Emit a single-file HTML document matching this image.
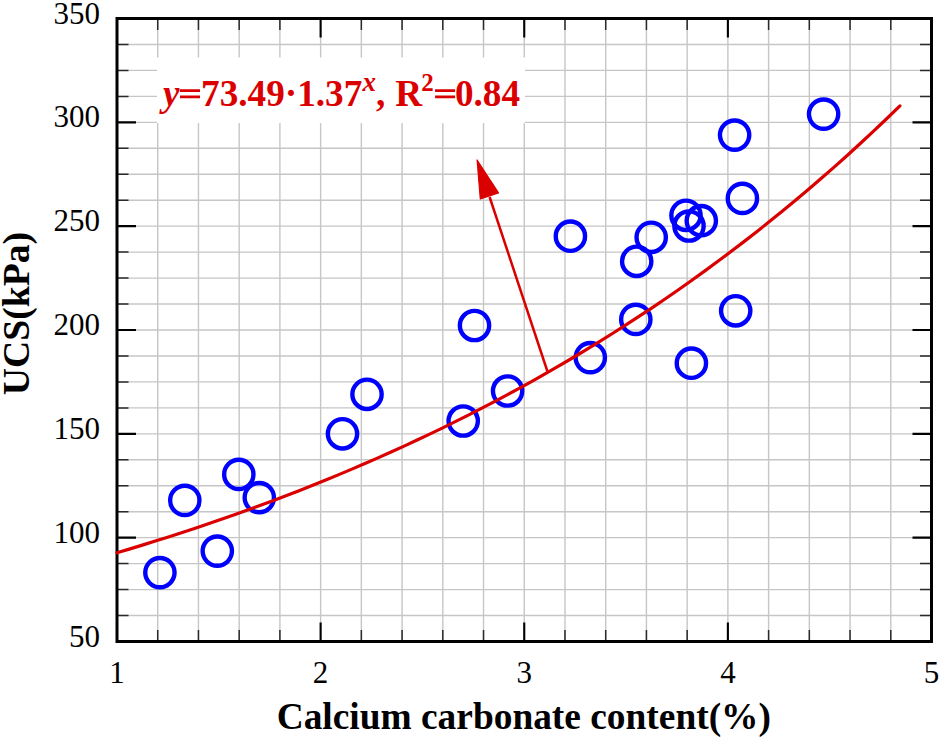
<!DOCTYPE html>
<html><head><meta charset="utf-8"><style>
html,body{margin:0;padding:0;background:#fff;}
svg{display:block;}
</style></head><body>
<svg width="940" height="739" viewBox="0 0 940 739">
<path d="M157.72 18.50V641.50M198.45 18.50V641.50M239.18 18.50V641.50M279.90 18.50V641.50M320.62 18.50V641.50M361.35 18.50V641.50M402.08 18.50V641.50M442.80 18.50V641.50M483.52 18.50V641.50M524.25 18.50V641.50M564.98 18.50V641.50M605.70 18.50V641.50M646.43 18.50V641.50M687.15 18.50V641.50M727.88 18.50V641.50M768.60 18.50V641.50M809.33 18.50V641.50M850.05 18.50V641.50M890.78 18.50V641.50M117.00 615.54H931.50M117.00 589.58H931.50M117.00 563.62H931.50M117.00 537.67H931.50M117.00 511.71H931.50M117.00 485.75H931.50M117.00 459.79H931.50M117.00 433.83H931.50M117.00 407.88H931.50M117.00 381.92H931.50M117.00 355.96H931.50M117.00 330.00H931.50M117.00 304.04H931.50M117.00 278.08H931.50M117.00 252.12H931.50M117.00 226.17H931.50M117.00 200.21H931.50M117.00 174.25H931.50M117.00 148.29H931.50M117.00 122.33H931.50M117.00 96.38H931.50M117.00 70.42H931.50M117.00 44.46H931.50" stroke="#c6c6c6" stroke-width="1.4" fill="none"/>
<path d="M157.72 18.50v11.5M157.72 641.50v-11.5M198.45 18.50v11.5M198.45 641.50v-11.5M239.18 18.50v11.5M239.18 641.50v-11.5M279.90 18.50v11.5M279.90 641.50v-11.5M361.35 18.50v11.5M361.35 641.50v-11.5M402.08 18.50v11.5M402.08 641.50v-11.5M442.80 18.50v11.5M442.80 641.50v-11.5M483.52 18.50v11.5M483.52 641.50v-11.5M564.98 18.50v11.5M564.98 641.50v-11.5M605.70 18.50v11.5M605.70 641.50v-11.5M646.43 18.50v11.5M646.43 641.50v-11.5M687.15 18.50v11.5M687.15 641.50v-11.5M768.60 18.50v11.5M768.60 641.50v-11.5M809.33 18.50v11.5M809.33 641.50v-11.5M850.05 18.50v11.5M850.05 641.50v-11.5M890.78 18.50v11.5M890.78 641.50v-11.5M117.00 615.54h11.5M931.50 615.54h-11.5M117.00 589.58h11.5M931.50 589.58h-11.5M117.00 563.62h11.5M931.50 563.62h-11.5M117.00 511.71h11.5M931.50 511.71h-11.5M117.00 485.75h11.5M931.50 485.75h-11.5M117.00 459.79h11.5M931.50 459.79h-11.5M117.00 407.88h11.5M931.50 407.88h-11.5M117.00 381.92h11.5M931.50 381.92h-11.5M117.00 355.96h11.5M931.50 355.96h-11.5M117.00 304.04h11.5M931.50 304.04h-11.5M117.00 278.08h11.5M931.50 278.08h-11.5M117.00 252.12h11.5M931.50 252.12h-11.5M117.00 200.21h11.5M931.50 200.21h-11.5M117.00 174.25h11.5M931.50 174.25h-11.5M117.00 148.29h11.5M931.50 148.29h-11.5M117.00 96.38h11.5M931.50 96.38h-11.5M117.00 70.42h11.5M931.50 70.42h-11.5M117.00 44.46h11.5M931.50 44.46h-11.5" stroke="#2a2a2a" stroke-width="1.5" fill="none"/>
<path d="M320.62 18.50v19M320.62 641.50v-19M524.25 18.50v19M524.25 641.50v-19M727.88 18.50v19M727.88 641.50v-19M117.00 537.67h19M931.50 537.67h-19M117.00 433.83h19M931.50 433.83h-19M117.00 330.00h19M931.50 330.00h-19M117.00 226.17h19M931.50 226.17h-19M117.00 122.33h19M931.50 122.33h-19" stroke="#000" stroke-width="2.1" fill="none"/>
<rect x="157" y="57.5" width="368" height="65.6" fill="#fff"/>
<rect x="117.0" y="18.5" width="814.5" height="623.0" fill="none" stroke="#000" stroke-width="3"/>
<g fill="none" stroke="#0000ff" stroke-width="4.4"><circle cx="159.9" cy="572.6" r="14.65"/><circle cx="184.8" cy="500.4" r="14.65"/><circle cx="217.3" cy="551.1" r="14.65"/><circle cx="238.8" cy="474.4" r="14.65"/><circle cx="259.3" cy="497.6" r="14.65"/><circle cx="342.5" cy="433.8" r="14.65"/><circle cx="367" cy="394.3" r="14.65"/><circle cx="463.2" cy="421" r="14.65"/><circle cx="474.5" cy="325.5" r="14.65"/><circle cx="507.6" cy="391" r="14.65"/><circle cx="570.4" cy="236.2" r="14.65"/><circle cx="590.3" cy="357.6" r="14.65"/><circle cx="636.7" cy="261.3" r="14.65"/><circle cx="635.8" cy="319.4" r="14.65"/><circle cx="651.2" cy="237.3" r="14.65"/><circle cx="686" cy="215.3" r="14.65"/><circle cx="689" cy="226" r="14.65"/><circle cx="701.3" cy="220.7" r="14.65"/><circle cx="691.4" cy="363.2" r="14.65"/><circle cx="734.6" cy="135.1" r="14.65"/><circle cx="742.4" cy="198.4" r="14.65"/><circle cx="735.7" cy="310.8" r="14.65"/><circle cx="823.6" cy="114.1" r="14.65"/></g>
<polyline points="117.00,552.79 130.05,548.88 143.10,544.90 156.15,540.84 169.20,536.70 182.24,532.47 195.29,528.16 208.34,523.76 221.39,519.28 234.44,514.70 247.49,510.03 260.54,505.27 273.59,500.41 286.64,495.46 299.69,490.40 312.73,485.24 325.78,479.98 338.83,474.61 351.88,469.14 364.93,463.55 377.98,457.86 391.03,452.04 404.08,446.11 417.13,440.07 430.18,433.89 443.22,427.60 456.27,421.18 469.32,414.63 482.37,407.95 495.42,401.13 508.47,394.18 521.52,387.08 534.57,379.85 547.62,372.46 560.66,364.93 573.71,357.25 586.76,349.41 599.81,341.42 612.86,333.26 625.91,324.95 638.96,316.46 652.01,307.80 665.06,298.97 678.11,289.96 691.15,280.77 704.20,271.39 717.25,261.83 730.30,252.07 743.35,242.12 756.40,231.97 769.45,221.61 782.50,211.04 795.55,200.26 808.60,189.27 821.64,178.05 834.69,166.61 847.74,154.94 860.79,143.03 873.84,130.88 886.89,118.49 899.94,105.85" stroke="#db0000" stroke-width="3.2" fill="none" stroke-linejoin="round" stroke-linecap="round"/>
<line x1="547.3" y1="371" x2="489.6" y2="197" stroke="#db0000" stroke-width="2.5"/>
<polygon points="477.1,160 480.3,199 498.5,192.9" fill="#db0000" stroke="#db0000" stroke-width="1.2" stroke-linejoin="round"/>
<g font-family="Liberation Serif" font-size="31" fill="#000"><text x="100" y="646.50" text-anchor="end">50</text><text x="100" y="542.67" text-anchor="end">100</text><text x="100" y="438.83" text-anchor="end">150</text><text x="100" y="335.00" text-anchor="end">200</text><text x="100" y="231.17" text-anchor="end">250</text><text x="100" y="127.33" text-anchor="end">300</text><text x="100" y="23.50" text-anchor="end">350</text><text x="117.00" y="682.8" text-anchor="middle">1</text><text x="320.62" y="682.8" text-anchor="middle">2</text><text x="524.25" y="682.8" text-anchor="middle">3</text><text x="727.88" y="682.8" text-anchor="middle">4</text><text x="931.50" y="682.8" text-anchor="middle">5</text></g>
<text x="523.8" y="729" text-anchor="middle" font-family="Liberation Serif" font-weight="bold" font-size="37.4">Calcium carbonate content(%)</text>
<text transform="translate(29.2,313.5) rotate(-90)" text-anchor="middle" font-family="Liberation Serif" font-weight="bold" font-size="37.7">UCS(kPa)</text>
<g font-family="Liberation Serif" fill="#db0000"><text x="163.1" y="106.3" font-weight="bold" font-style="italic" font-size="37.2">y</text><path d="M180 89.3h20v2.7h-20zM180 95.6h20v2.7h-20zM435.1 89.3h20v2.7h-20zM435.1 95.6h20v2.7h-20z"/><text x="201.1" y="106.3" font-weight="bold" font-size="37.2">73.49·1.37</text><text x="362.5" y="90.6" font-weight="bold" font-style="italic" font-size="27">x</text><text x="376" y="106.3" font-weight="bold" font-size="37.2">,</text><text x="395.3" y="106.3" font-weight="bold" font-size="37.2">R</text><text x="421.3" y="91" font-weight="bold" font-size="25">2</text><text x="454.9" y="106.3" font-weight="bold" font-size="37.2">0.84</text></g>
</svg>
</body></html>
